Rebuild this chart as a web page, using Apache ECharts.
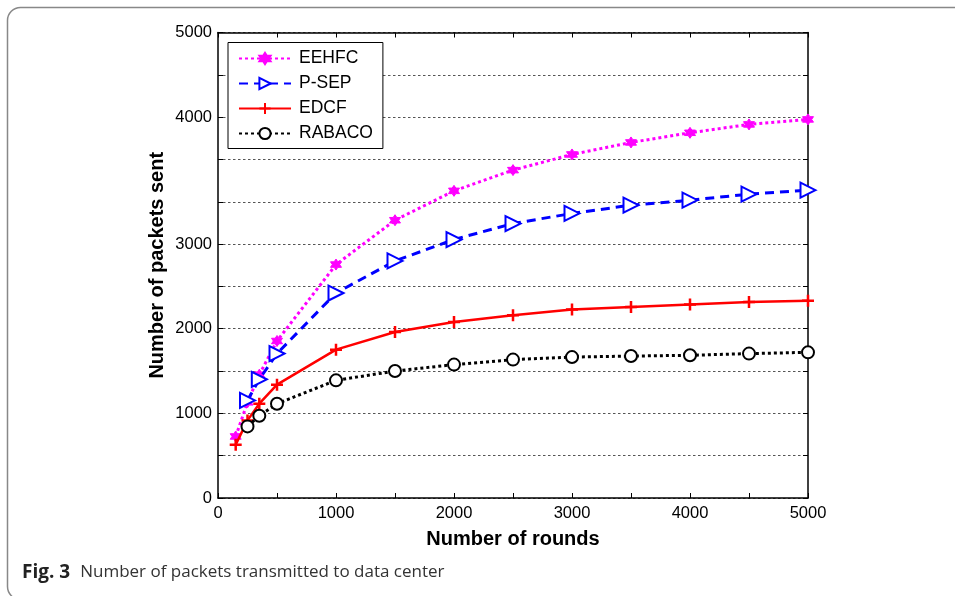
<!DOCTYPE html>
<html>
    <head>
        <meta charset="utf-8">
        <title>chart</title>
        <style>
            html, body { margin: 0; padding: 0; width: 100%; height: 100%; background: #fff; }
            #main { width: 955px; height: 596px; }
        </style>
    </head>
    <body>
        <div id="main"></div>
        <script src="https://cdn.jsdelivr.net/npm/echarts@6/dist/echarts.min.js"></script>
        <script type="text/javascript">
        var myChart = echarts.init(document.getElementById('main'));

        // x positions (rounds)
        var rounds = [150, 250, 350, 500, 1000, 1500, 2000, 2500, 3000, 3500, 4000, 4500, 5000];
        // values in the plot's (evenly gridded) y units
        var eehfc  = [727, 1130, 1457, 1855, 2758, 3282, 3629, 3874, 4059, 4201, 4315, 4414, 4473];
        var psep   = [null, 1153, 1402, 1706, 2422, 2801, 3054, 3243, 3362, 3460, 3519, 3590, 3637];
        var edcf   = [629, 917, 1114, 1339, 1753, 1961, 2079, 2159, 2226, 2257, 2285, 2316, 2332];
        var rabaco = [null, 846, 972, 1114, 1390, 1500, 1576, 1635, 1665, 1677, 1686, 1706, 1721];

        // y tick labels as printed on the figure, and where they sit
        var yTickValues = [0, 1000, 2000, 3000, 4500, 5500];
        var yTickLabels = ['0', '1000', '2000', '3000', '4000', '5000'];
        var xTickLabels = [0, 1000, 2000, 3000, 4000, 5000];

        function pairs(vals) {
            var res = [];
            for (var i = 0; i < rounds.length; i++) {
                if (vals[i] != null) res.push([rounds[i], vals[i]]);
            }
            return res;
        }

        var hexagram = 'path://M50,0L35.5,24.9L6.7,25L21,50L6.7,75L35.5,75.1L50,100L64.5,75.1L93.3,75L79,50L93.3,25L64.5,24.9Z';
        var plus = 'path://M0,50L100,50M50,0L50,100';

        var font = 'Liberation Sans';
        var tickStyle = { show: true, inside: true, length: 5, lineStyle: { color: '#000', width: 1 } };
        var lineAxis = { show: true, onZero: false, lineStyle: { color: '#000', width: 1.5 } };

        option = {
            backgroundColor: '#fff',
            animation: false,
            textStyle: { fontFamily: font },
            graphic: [{
                type: 'rect',
                shape: { x: 7.5, y: 7.5, width: 1000, height: 592, r: 13 },
                style: { fill: 'none', stroke: '#888', lineWidth: 1.5 },
                silent: true
            }, {
                type: 'text',
                left: 22,
                top: 563,
                style: {
                    text: '{b|Fig. 3}   {r|Number of packets transmitted to data center}',
                    rich: {
                        b: { fontFamily: 'Open Sans', fontWeight: 'bold', fontSize: 19, fill: '#222' },
                        r: { fontFamily: 'Open Sans', fontSize: 17, fill: '#333' }
                    }
                }
            }],
            legend: {
                left: 228,
                top: 42.5,
                orient: 'vertical',
                backgroundColor: '#fff',
                borderColor: '#000',
                borderWidth: 1,
                padding: [7, 10, 6, 10],
                itemWidth: 52,
                itemHeight: 14,
                itemGap: 7,
                textStyle: { fontFamily: font, fontSize: 17.5, color: '#000', lineHeight: 18, padding: [0, 0, 0, 3] },
                data: ['EEHFC', 'P-SEP', 'EDCF', 'RABACO']
            },
            grid: {
                left: 218,
                right: 147,
                top: 32.5,
                bottom: 98
            },
            xAxis: [{
                type: 'value',
                min: 0,
                max: 5000,
                interval: 500,
                position: 'bottom',
                name: 'Number of rounds',
                nameLocation: 'middle',
                nameGap: 31,
                nameMoveOverlap: false,
                nameTextStyle: { fontFamily: font, fontWeight: 'bold', fontSize: 20, color: '#000' },
                axisLine: lineAxis,
                axisTick: tickStyle,
                splitLine: { show: false },
                axisLabel: {
                    margin: 7,
                    fontSize: 16.5,
                    color: '#000',
                    formatter: function(v) {
                        return xTickLabels.indexOf(v) >= 0 ? String(v) : '';
                    }
                }
            }, {
                type: 'value',
                min: 0,
                max: 5000,
                interval: 500,
                position: 'top',
                axisLine: lineAxis,
                axisTick: tickStyle,
                splitLine: { show: false },
                axisLabel: { show: false }
            }],
            yAxis: [{
                type: 'value',
                min: 0,
                max: 5500,
                interval: 500,
                position: 'left',
                name: 'Number of packets sent',
                nameLocation: 'middle',
                nameGap: 51,
                nameMoveOverlap: false,
                nameTextStyle: { fontFamily: font, fontWeight: 'bold', fontSize: 20, color: '#000' },
                axisLine: lineAxis,
                axisTick: tickStyle,
                splitLine: { show: true, lineStyle: { color: '#555', width: 1, type: [2.5, 2.5] } },
                axisLabel: {
                    margin: 6,
                    fontSize: 16.5,
                    color: '#000',
                    formatter: function(v) {
                        var i = yTickValues.indexOf(v);
                        return i >= 0 ? yTickLabels[i] : '';
                    }
                }
            }, {
                type: 'value',
                min: 0,
                max: 5500,
                interval: 500,
                position: 'right',
                axisLine: lineAxis,
                axisTick: tickStyle,
                splitLine: { show: false },
                axisLabel: { show: false }
            }],
            series: [{
                name: 'EEHFC',
                type: 'line',
                data: pairs(eehfc),
                symbol: hexagram,
                symbolSize: 11,
                lineStyle: { color: '#ff00ff', width: 3, type: [3, 3] },
                itemStyle: { color: '#ff00ff', borderColor: '#ff00ff', borderWidth: 1 },
                z: 2
            }, {
                name: 'P-SEP',
                type: 'line',
                data: pairs(psep),
                symbol: 'emptyTriangle',
                symbolSize: 15,
                symbolRotate: -90,
                lineStyle: { color: '#0000ff', width: 3, type: [9, 6] },
                itemStyle: { color: '#0000ff', borderWidth: 2.6 },
                z: 3
            }, {
                name: 'EDCF',
                type: 'line',
                data: pairs(edcf),
                symbol: plus,
                symbolSize: 12,
                lineStyle: { color: '#ff0000', width: 2.5 },
                itemStyle: { color: '#ff0000', borderColor: '#ff0000', borderWidth: 2.5 },
                z: 4
            }, {
                name: 'RABACO',
                type: 'line',
                data: pairs(rabaco),
                symbol: 'emptyCircle',
                symbolSize: 12,
                lineStyle: { color: '#000', width: 3, type: [3, 3] },
                itemStyle: { color: '#000', borderWidth: 3 },
                z: 5
            }]
        };
        myChart.setOption(option);
        </script>
    </body>
</html>
